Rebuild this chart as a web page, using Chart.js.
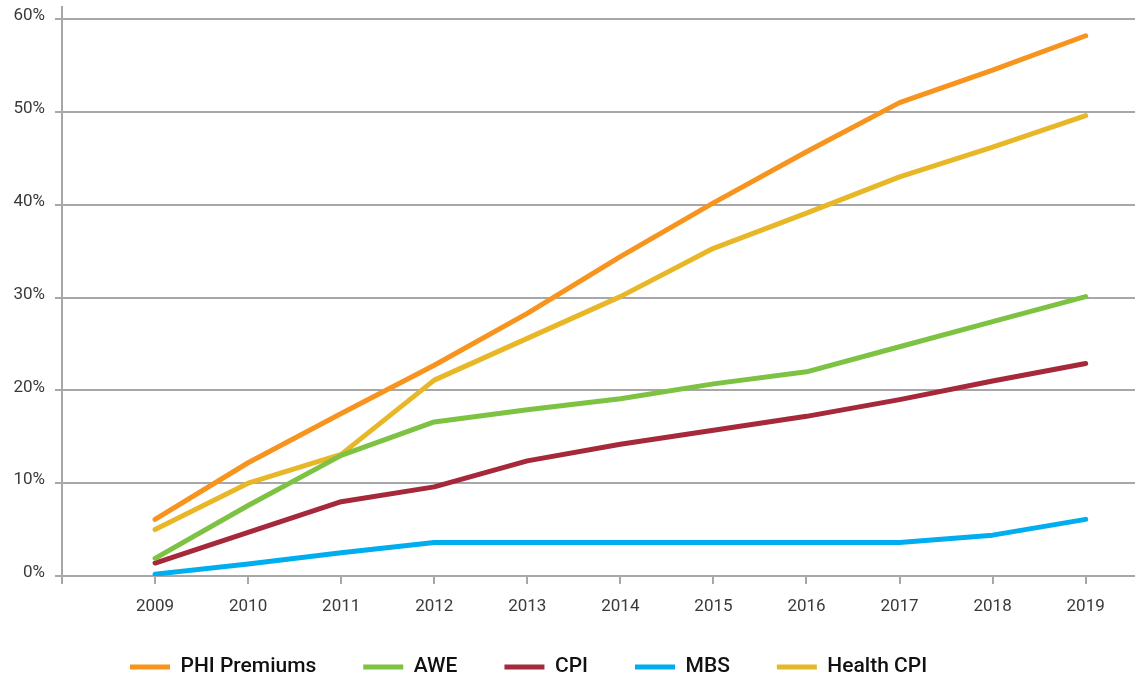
<!DOCTYPE html>
<html>
<head>
<meta charset="utf-8">
<script src="https://cdn.jsdelivr.net/npm/chart.js@4"></script>
<style>
  html, body { margin: 0; padding: 0; background: #fff; }
  #wrap { width: 1135px; height: 679px; }
</style>
</head>
<body>
<div id="wrap"><canvas id="growthChart" width="1135" height="679"></canvas></div>
<script>
// data (cumulative growth since 2008, %)
const years = [2009, 2010, 2011, 2012, 2013, 2014, 2015, 2016, 2017, 2018, 2019];
const phiPremiums = [6.1, 12.2, 17.5, 22.7, 28.3, 34.4, 40.2, 45.7, 51.0, 54.5, 58.2];
const awe = [1.9, 7.6, 13.0, 16.6, 17.9, 19.1, 20.7, 22.0, 24.7, 27.4, 30.1];
const cpi = [1.4, 4.7, 8.0, 9.6, 12.4, 14.2, 15.7, 17.2, 19.0, 21.0, 22.9];
const mbs = [0.2, 1.3, 2.5, 3.6, 3.6, 3.6, 3.6, 3.6, 3.6, 4.4, 6.1];
const healthCpi = [5.0, 10.0, 13.1, 21.1, 25.6, 30.1, 35.3, 39.1, 43.0, 46.2, 49.6];
const yTicks = [0, 10, 20, 30, 40, 50, 60];

const toPoints = (vals) => vals.map((v, i) => ({ x: years[i], y: v }));

const axisGrey = '#a7a7a9';
const tickFont = { family: 'Roboto', size: 17, weight: '400' };

function series(label, vals, color) {
  return {
    label: label,
    data: toPoints(vals),
    borderColor: color,
    backgroundColor: color,
    borderWidth: 5,
    borderCapStyle: 'round',
    borderJoinStyle: 'round',
    pointRadius: 0,
    pointHoverRadius: 0,
    tension: 0,
    fill: false
  };
}

// puts the legend where it sits in the original
const legendShift = {
  id: 'legendShift',
  afterLayout(chart) {
    const lg = chart.legend;
    const pad = lg.options.labels.padding;
    const fs = lg.options.labels.font.size;
    const w = lg.right - lg.left;
    const h = lg.bottom - lg.top;
    lg.left = 130 - pad;
    lg.right = lg.left + w;
    lg.top = 667 - fs / 2 - pad;
    lg.bottom = lg.top + h;
  }
};

const ctx = document.getElementById('growthChart').getContext('2d');
new Chart(ctx, {
  type: 'line',
  data: {
    datasets: [
      series('PHI Premiums', phiPremiums, '#f7941d'),
      series('AWE', awe, '#7dc242'),
      series('CPI', cpi, '#a6283b'),
      series('MBS', mbs, '#00aeef'),
      series('Health CPI', healthCpi, '#e8b727')
    ]
  },
  options: {
    responsive: false,
    animation: false,
    layout: { padding: { top: 7, right: 0, left: 0, bottom: -25 } },
    plugins: {
      tooltip: { enabled: false },
      legend: {
        position: 'bottom',
        align: 'start',
        labels: {
          usePointStyle: true,
          pointStyle: 'line',
          pointStyleWidth: 40,
          padding: 47,
          color: '#111',
          font: { family: 'Roboto', size: 21, weight: '500' }
        }
      }
    },
    scales: {
      x: {
        type: 'linear',
        min: 2008,
        max: 2019.53,
        afterBuildTicks(scale) {
          scale.ticks = [2008].concat(years).map(v => ({ value: v }));
        },
        afterFit(scale) {
          scale.height = 50;
          scale.paddingLeft = 0;
          scale.paddingRight = 0;
        },
        ticks: {
          autoSkip: false,
          maxRotation: 0,
          padding: 13,
          color: '#3a3a3a',
          font: tickFont,
          callback: (v) => (years.includes(v) ? String(v) : '')
        },
        grid: {
          drawOnChartArea: false,
          drawTicks: true,
          tickLength: 8,
          color: axisGrey,
          lineWidth: 2
        },
        border: { display: true, color: axisGrey, width: 2 }
      },
      y: {
        min: 0,
        max: 61.3,
        afterBuildTicks(scale) {
          scale.ticks = yTicks.map(v => ({ value: v }));
        },
        afterFit(scale) {
          scale.width = 62;
          scale.paddingTop = 0;
          scale.paddingBottom = 0;
        },
        ticks: {
          padding: 10,
          labelOffset: -3,
          color: '#3a3a3a',
          font: tickFont,
          callback: (v) => v + '%'
        },
        grid: {
          color: axisGrey,
          lineWidth: 2,
          tickLength: 7
        },
        border: { display: true, color: axisGrey, width: 2 }
      }
    }
  },
  plugins: [legendShift]
});
</script>
</body>
</html>
